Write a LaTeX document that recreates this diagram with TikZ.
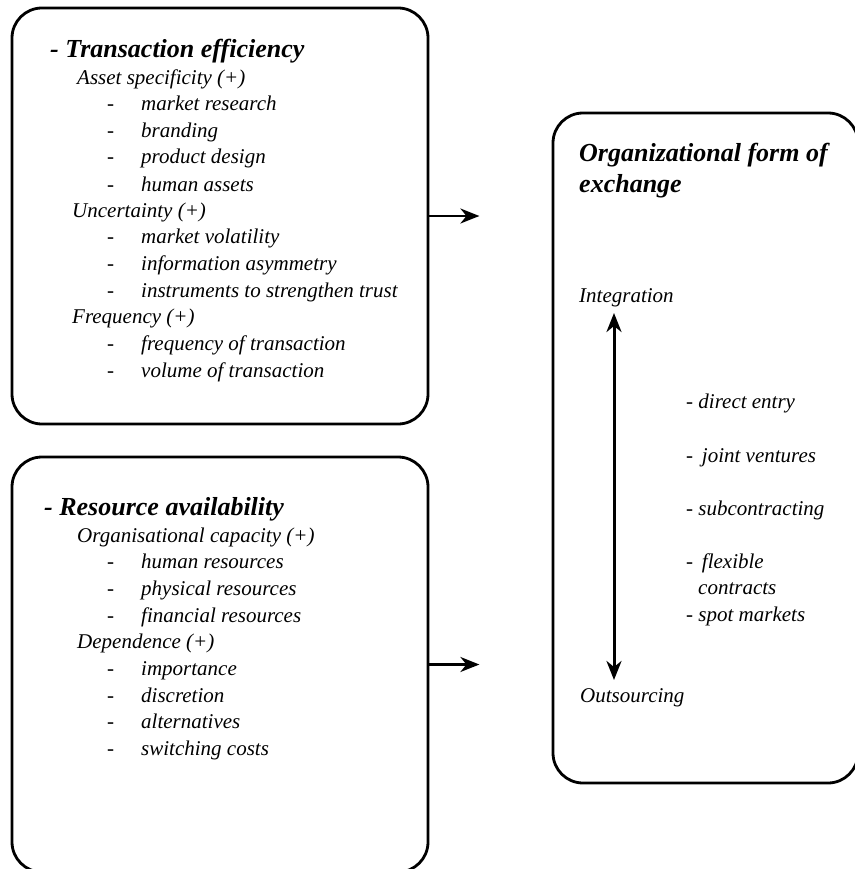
\documentclass[tikz,border=0pt]{standalone}
\usepackage{fontspec}
\setmainfont{Liberation Serif}
\usetikzlibrary{arrows.meta,positioning}

\newcommand\dashitem[1]{\makebox[34pt][l]{-}#1}
\tikzset{
  box/.style={draw, line width=2.8pt, rounded corners=30pt, inner sep=0pt},
  head/.style={font=\fontsize{26}{30}\selectfont\bfseries\itshape, anchor=base west, inner sep=0pt},
  txt/.style={font=\fontsize{21}{25}\selectfont\itshape, anchor=base west, inner sep=0pt},
  arr/.tip={Stealth[length=19pt,width=15pt,inset=6pt]},
  link/.style={line width=2.4pt, -arr}
}

\begin{document}
\begin{tikzpicture}[x=1pt,y=-1pt]
\useasboundingbox (0,0) rectangle (854,869);
% the three boxes
\node[box, minimum width=416pt, minimum height=416pt] (box1) at (220,216) {};
\node[box, minimum width=416pt, minimum height=415pt] (box2) at (220,664.5) {};
\node[box, minimum width=305pt, minimum height=670pt] (box3) at (705.5,448) {};
% transaction efficiency
\node[head] (te) at (50,58) {- Transaction efficiency};
\node[txt] (as) at (77,85) {Asset specificity (+)};
\node[txt] (as1) at (107,111) {\dashitem{market research}};
\node[txt] (as2) at (107,138) {\dashitem{branding}};
\node[txt] (as3) at (107,164) {\dashitem{product design}};
\node[txt] (as4) at (107,191) {\dashitem{human assets}};
\node[txt] (un) at (72,217) {Uncertainty (+)};
\node[txt] (un1) at (107,243) {\dashitem{market volatility}};
\node[txt] (un2) at (107,270) {\dashitem{information asymmetry}};
\node[txt] (un3) at (107,297) {\dashitem{instruments to strengthen trust}};
\node[txt] (fr) at (72,323) {Frequency (+)};
\node[txt] (fr1) at (107,350) {\dashitem{frequency of transaction}};
\node[txt] (fr2) at (107,377) {\dashitem{volume of transaction}};
% resource availability
\node[head] (ra) at (44,515) {- Resource availability};
\node[txt] (oc) at (77,542) {Organisational capacity (+)};
\node[txt] (oc1) at (107,568) {\dashitem{human resources}};
\node[txt] (oc2) at (107,595) {\dashitem{physical resources}};
\node[txt] (oc3) at (107,622) {\dashitem{financial resources}};
\node[txt] (de) at (77,648) {Dependence (+)};
\node[txt] (de1) at (107,675) {\dashitem{importance}};
\node[txt] (de2) at (107,702) {\dashitem{discretion}};
\node[txt] (de3) at (107,728) {\dashitem{alternatives}};
\node[txt] (de4) at (107,755) {\dashitem{switching costs}};
% organizational form
\node[head] (of) at (579,162) {Organizational form of};
\node[head] (ex) at (579,193) {exchange};
\node[txt] (int) at (579,302) {Integration};
\node[txt] (out) at (580,702) {Outsourcing};
\node[txt] (f1) at (686,408) {- direct entry};
\node[txt] (f2) at (686,462) {- \,joint ventures};
\node[txt] (f3) at (686,515) {- subcontracting};
\node[txt] (f4) at (686,568) {- \,flexible};
\node[txt] (f4b) at (698,594) {contracts};
\node[txt] (f5) at (686,621) {- spot markets};
% arrows
\coordinate[right=50pt of box1.east] (e1);
\coordinate[right=50pt of box2.east] (e2);
\draw[link] (box1.east) -- (e1);
\draw[link] (box2.east) -- (e2);
\coordinate (up) at (614,313);
\coordinate (dn) at (614,680);
\draw[line width=3pt, arr-arr] (dn) -- (up);
\end{tikzpicture}
\end{document}
